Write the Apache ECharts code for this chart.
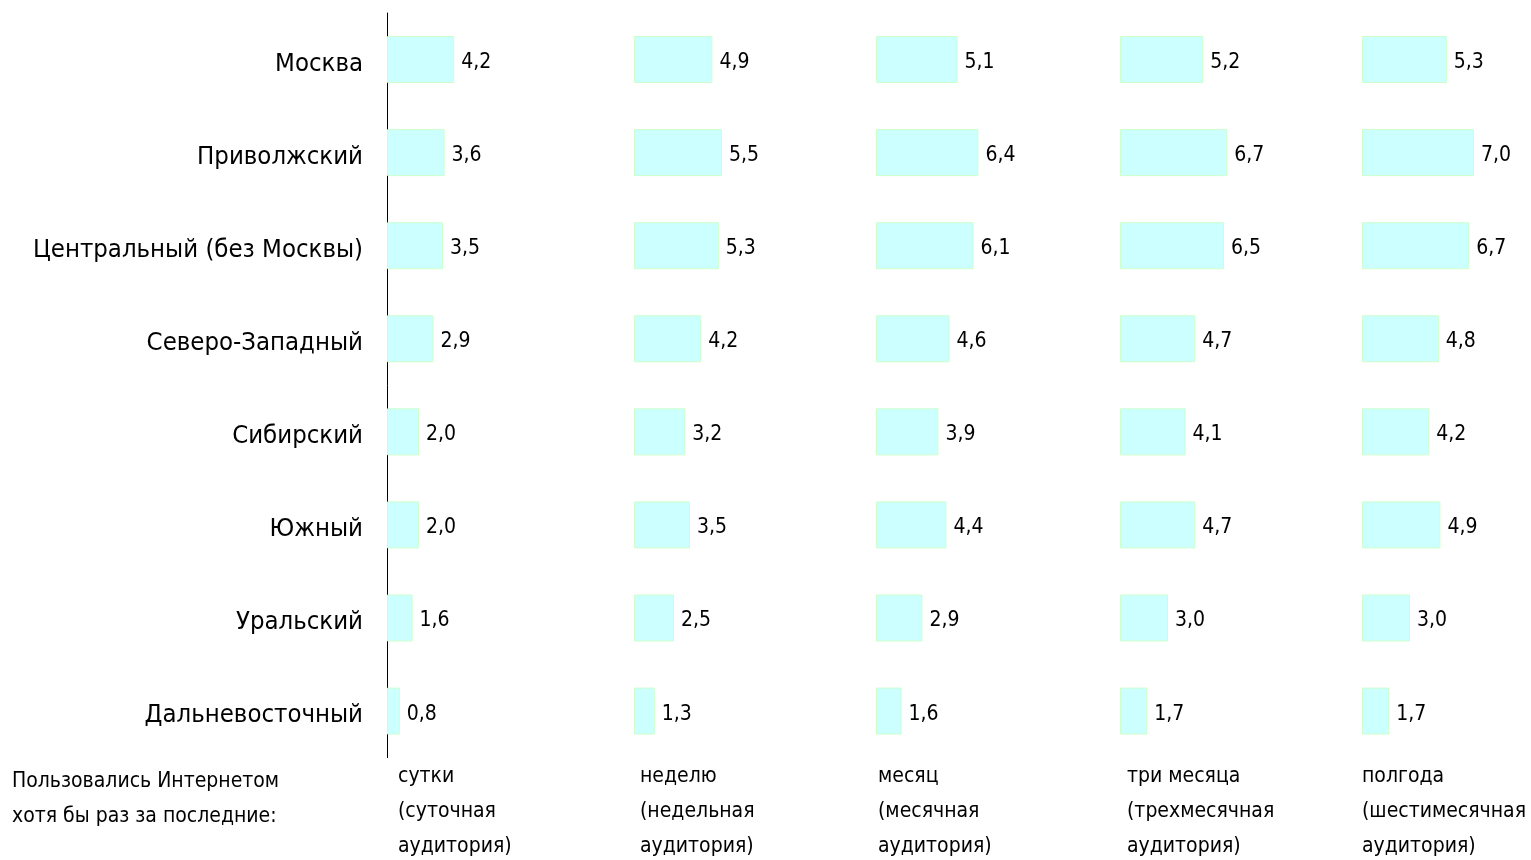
<!DOCTYPE html>
<html>
<head>
<meta charset="utf-8">
<script src="https://cdn.jsdelivr.net/npm/echarts@6/dist/echarts.min.js"></script>
<style>
  html, body { margin: 0; padding: 0; background: #fff; }
  #chart { width: 1531px; height: 860px; }
</style>
</head>
<body>
<div id="chart"></div>
<script>
const regions = ['Москва', 'Приволжский', 'Центральный (без Москвы)', 'Северо-Западный',
  'Сибирский', 'Южный', 'Уральский', 'Дальневосточный']

const periods = [
  'сутки\n(суточная\nаудитория)',
  'неделю\n(недельная\nаудитория)',
  'месяц\n(месячная\nаудитория)',
  'три месяца\n(трехмесячная\nаудитория)',
  'полгода\n(шестимесячная\nаудитория)',
]

const daily = [4.2, 3.6, 3.5, 2.9, 2.0, 2.0, 1.6, 0.8]
const weekly = [4.9, 5.5, 5.3, 4.2, 3.2, 3.5, 2.5, 1.3]
const monthly = [5.1, 6.4, 6.1, 4.6, 3.9, 4.4, 2.9, 1.6]
const threeMonths = [5.2, 6.7, 6.5, 4.7, 4.1, 4.7, 3.0, 1.7]
const halfYear = [5.3, 7.0, 6.7, 4.8, 4.2, 4.9, 3.0, 1.7]

const footnote = 'Пользовались Интернетом\nхотя бы раз за последние:'

const allSeries = [daily, weekly, monthly, threeMonths, halfYear]

// колонки — каждая в своей сетке
const lefts = [387, 634, 876, 1120, 1362]
const FONT = '"Liberation Sans Narrow", "DejaVu Sans Condensed", "Open Sans", sans-serif'

const chart = echarts.init(document.getElementById('chart'))

const grid = lefts.map(l => ({ left: l, top: 13, width: 160, height: 744.6 }))

const xAxis = lefts.map((_, i) => ({
  gridIndex: i, type: 'value', min: 0, max: 10, show: false,
}))

const yAxis = lefts.map((_, i) => ({
  gridIndex: i,
  type: 'category',
  data: regions,
  inverse: true,
  axisLine: { show: i === 0, lineStyle: { color: '#000', width: 1 } },
  axisTick: { show: false },
  axisLabel: {
    show: i === 0, color: '#000', fontSize: 25.5, margin: 24, fontFamily: FONT,
    formatter: v => '{r|' + v + '}',
    rich: { r: { fontSize: 25.5, fontFamily: FONT, color: '#000', padding: [9, 0, 0, 0] } },
  },
  splitLine: { show: false },
}))

const series = allSeries.map((data, i) => ({
  type: 'bar',
  xAxisIndex: i,
  yAxisIndex: i,
  data,
  barWidth: 47,
  itemStyle: { color: '#ccffff', borderColor: '#ccffcc', borderWidth: 1 },
  label: {
    show: true,
    position: 'right',
    distance: 7,
    offset: [0, 3],
    color: '#000',
    fontSize: 21,
    fontFamily: FONT,
    formatter: p => p.value.toFixed(1).replace('.', ','),
  },
  animation: false,
}))

const textStyle = { fill: '#000', fontSize: 21, fontFamily: FONT, lineHeight: 35 }

const graphic = [
  { type: 'text', left: 12, top: 764, style: Object.assign({ text: footnote }, textStyle) },
].concat(periods.map((p, i) => ({
  type: 'text',
  left: [398, 640, 878, 1127, 1362][i],
  top: 759,
  style: Object.assign({ text: p }, textStyle),
})))

chart.setOption({
  animation: false,
  grid, xAxis, yAxis, series, graphic,
})
</script>
</body>
</html>
